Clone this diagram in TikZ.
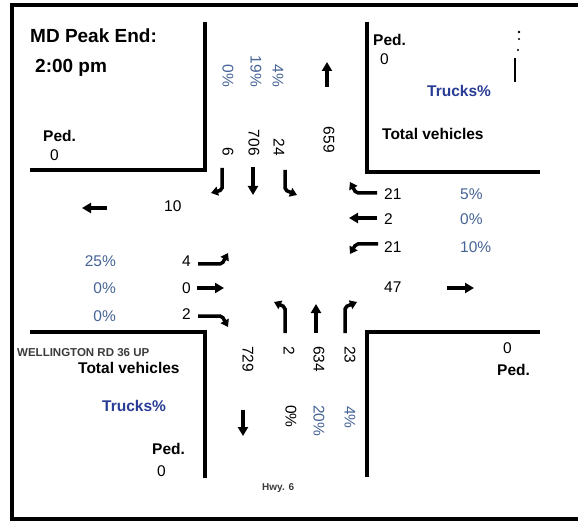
\documentclass[tikz,border=0pt]{standalone}
\usepackage{fontspec}
\setmainfont{Liberation Sans}
\usetikzlibrary{arrows.meta}
\definecolor{pct}{RGB}{70,100,150}
\definecolor{trk}{RGB}{40,60,150}
\definecolor{dgray}{RGB}{60,60,60}
\begin{document}
\begin{tikzpicture}[x=1pt,y=-1pt,
  num/.style={inner sep=0pt,font=\fontsize{15.5}{18}\selectfont},
  pc/.style={num,text=pct},
  lbl/.style={inner sep=0pt,font=\fontsize{15.5}{18}\selectfont\bfseries},
  ttl/.style={inner sep=0pt,font=\fontsize{19}{22}\selectfont\bfseries},
  rot/.style={rotate=-90},
  arr/.style={line width=3.5pt,-{Triangle[length=9pt,width=10pt]}},
  turn/.style={line width=3.5pt,rounded corners=2pt,-{Triangle[length=7pt,width=9pt]}},
  wall/.style={line width=3.5pt}]
\useasboundingbox (0,0) rectangle (578,521);
\fill[white] (0,0) rectangle (578,521);
% outer frame
\draw[wall] (590,5) -- (12,5) -- (12,519) -- (590,519);
% corners
\draw[wall] (205,22) -- (205,170) -- (30,170);
\draw[wall] (367,22) -- (367,172) -- (540,172);
\draw[wall] (30,332) -- (205,332) -- (205,478);
\draw[wall] (540,332) -- (367,332) -- (367,477);
% scan marks top right
\fill (519,32) circle (1.3pt);
\fill (519,39) circle (1.1pt);
\fill (518,50) circle (1.1pt);
\draw[line width=1.2pt] (515,58) -- (515,82);

% title
\node[ttl,anchor=base west] (title1) at (30,43) {MD Peak End:};
\node[ttl,anchor=base west] (title2) at (35,73) {2:00 pm};

% corner labels
\node[lbl,anchor=base west] (pedNW) at (43,142) {Ped.};
\node[num,anchor=base west] (pedNWv) at (50,161) {0};
\node[lbl,anchor=base west] (pedNE) at (373,46) {Ped.};
\node[num,anchor=base west] (pedNEv) at (380,65) {0};
\node[lbl,anchor=base west,text=trk] (trkNE) at (427,97) {Trucks\%};
\node[lbl,anchor=base west] (totNE) at (382,140) {Total vehicles};

\node[inner sep=0pt,font=\fontsize{11.5}{13}\selectfont\bfseries,text=dgray,anchor=base west] (road) at (17,356) {WELLINGTON RD 36 UP};
\node[lbl,anchor=base west] (totSW) at (78,373) {Total vehicles};
\node[lbl,anchor=base west,text=trk] (trkSW) at (102,411) {Trucks\%};
\node[lbl,anchor=base west] (pedSW) at (152,454) {Ped.};
\node[num,anchor=base west] (pedSWv) at (157,476) {0};
\node[num,anchor=base west] (pedSEv) at (503,353) {0};
\node[lbl,anchor=base west] (pedSE) at (497,375) {Ped.};
\node[inner sep=0pt,font=\fontsize{10}{12}\selectfont\bfseries,text=dgray,anchor=base west] (hwy) at (262,490) {Hwy. 6};

% north approach
\node[pc,rot,anchor=east] (nP1) at (228,87) {0\%};
\node[pc,rot,anchor=east] (nP2) at (256,87) {19\%};
\node[pc,rot,anchor=east] (nP3) at (278,87) {4\%};
\node[num,rot,anchor=east] (nV1) at (228,156) {6};
\node[num,rot,anchor=east] (nV2) at (254,156) {706};
\node[num,rot,anchor=east] (nV3) at (279,156) {24};
\node[num,rot,anchor=east] (nOut) at (329,153) {659};
\draw[turn] (222,168) -- (222,190) -- (211,193);
\draw[arr] (253,167) -- (253,195);
\draw[turn] (285,170) -- (285,190) -- (297,195);
\draw[arr] (327,87) -- (327,62);

% south approach
\node[num,rot,anchor=west] (sOut) at (248,346) {729};
\node[num,rot,anchor=west] (sV1) at (289,346) {2};
\node[num,rot,anchor=west] (sV2) at (319,346) {634};
\node[num,rot,anchor=west] (sV3) at (350,346) {23};
\node[num,rot,anchor=west] (sP1) at (291,405) {0\%};
\node[pc,rot,anchor=west] (sP2) at (319,405) {20\%};
\node[pc,rot,anchor=west] (sP3) at (350,406) {4\%};
\draw[turn] (285,333) -- (285,307) -- (274,302);
\draw[arr] (316,333) -- (316,304);
\draw[turn] (345,333) -- (345,307) -- (357,302);
\draw[arr] (243,410) -- (243,436);

% west approach
\node[num,anchor=base west] (wOut) at (164,212) {10};
\draw[arr] (107,208) -- (82,208);
\node[pc,anchor=base east] (wP1) at (116,267) {25\%};
\node[pc,anchor=base east] (wP2) at (116,294) {0\%};
\node[pc,anchor=base east] (wP3) at (116,321) {0\%};
\node[num,anchor=base west] (wV1) at (182,267) {4};
\node[num,anchor=base west] (wV2) at (182,294) {0};
\node[num,anchor=base west] (wV3) at (182,319) {2};
\draw[turn] (198,264) -- (222,264) -- (228,253);
\draw[arr] (197,288) -- (224,288);
\draw[turn] (198,316) -- (222,316) -- (228,327);

% east approach
\node[num,anchor=base west] (eV1) at (384,200) {21};
\node[num,anchor=base west] (eV2) at (384,225) {2};
\node[num,anchor=base west] (eV3) at (384,253) {21};
\node[pc,anchor=base west] (eP1) at (460,200) {5\%};
\node[pc,anchor=base west] (eP2) at (460,225) {0\%};
\node[pc,anchor=base west] (eP3) at (460,253) {10\%};
\node[num,anchor=base west] (eOut) at (384,293) {47};
\draw[turn] (377,193) -- (356,193) -- (350,182);
\draw[arr] (377,218) -- (349,218);
\draw[turn] (378,244) -- (356,244) -- (350,254);
\draw[arr] (447,288) -- (474,288);
\end{tikzpicture}
\end{document}
